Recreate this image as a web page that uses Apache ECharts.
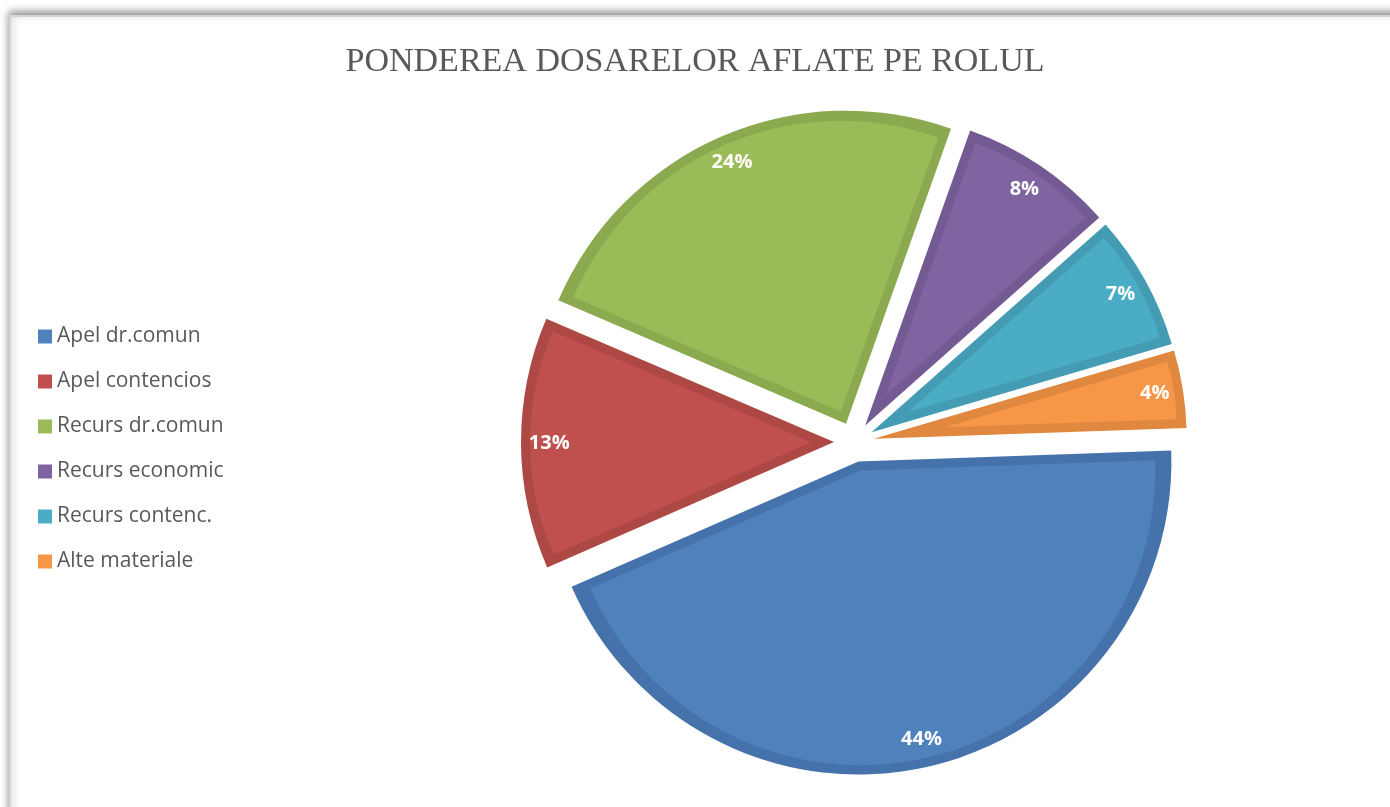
<!DOCTYPE html>
<html>
<head>
<meta charset="utf-8">
<script src="https://cdn.jsdelivr.net/npm/echarts@6/dist/echarts.min.js"></script>
<style>
  html, body { margin: 0; padding: 0; background: #fff; }
  #main { width: 1390px; height: 807px; }
</style>
</head>
<body>
<div id="main"></div>
<script>
// date grafic
var categorii = ['Apel dr.comun', 'Apel contencios', 'Recurs dr.comun', 'Recurs economic', 'Recurs contenc.', 'Alte materiale'];
var procente = [44, 13, 24, 8, 7, 4];
var culori = ['#4F81BD', '#C0504D', '#9BBB59', '#8064A2', '#4BACC6', '#F79646'];
var culoriContur = ['#4672AB', '#AE4845', '#8BA94F', '#735A93', '#439CB3', '#E08740'];

var myChart = echarts.init(document.getElementById('main'));

var centru = [854, 442];
var raza = 313;
var decalaj = 20;     // cat de departe e "explodata" fiecare felie
var grosime = 9;      // conturul e desenat spre interior
var unghiStart = 2;

var transparent = 'rgba(0,0,0,0)';

// felii exterioare (culoarea conturului)
var dateFelii = categorii.map(function (nume, i) {
    var stil = { color: culoriContur[i], borderWidth: 0 };
    return { name: nume, value: procente[i], selected: true, itemStyle: stil, select: { itemStyle: stil } };
});

var serii = [{
    type: 'pie',
    center: centru,
    radius: [0, raza],
    startAngle: unghiStart,
    clockwise: true,
    selectedMode: 'multiple',
    selectedOffset: decalaj,
    label: { show: false },
    labelLine: { show: false },
    emphasis: { disabled: true },
    silent: true,
    data: dateFelii
}];

// pentru fiecare felie, interiorul mai deschis (micsorat spre interior cu "grosime")
var cumul = 0;
procente.forEach(function (p, i) {
    var start = unghiStart - 3.6 * cumul;
    var mijloc = (-unghiStart + 3.6 * (cumul + p / 2)) * Math.PI / 180;
    var alfa = (3.6 * p / 2) * Math.PI / 180;
    var d = grosime / Math.sin(alfa);
    var cx = centru[0] + (decalaj + d) * Math.cos(mijloc);
    var cy = centru[1] + (decalaj + d) * Math.sin(mijloc);
    serii.push({
        type: 'pie',
        center: [cx, cy],
        radius: [0, raza - grosime - d],
        startAngle: start,
        clockwise: true,
        silent: true,
        emphasis: { disabled: true },
        label: { show: false },
        labelLine: { show: false },
        data: [
            { value: p, itemStyle: { color: culori[i] } },
            { value: 100 - p, itemStyle: { color: transparent } }
        ]
    });
    cumul += p;
});

// strat transparent doar pentru etichete (mai aproape de margine)
serii.push({
    type: 'pie',
    center: centru,
    radius: [raza * 0.8, raza],
    startAngle: unghiStart,
    clockwise: true,
    selectedMode: 'multiple',
    selectedOffset: decalaj,
    itemStyle: { color: transparent },
    select: { itemStyle: { color: transparent, borderWidth: 0 } },
    emphasis: { disabled: true },
    silent: true,
    label: {
        show: true,
        position: 'inside',
        formatter: '{c}%',
        color: '#ffffff',
        fontFamily: 'Open Sans',
        fontWeight: 'bold',
        fontSize: 20
    },
    labelLine: { show: false },
    data: categorii.map(function (nume, i) {
        return { name: nume, value: procente[i], selected: true };
    })
});

var option = {
    animation: false,
    title: {
        text: 'PONDEREA DOSARELOR AFLATE PE ROLUL',
        left: 'center',
        top: 40,
        textStyle: {
            fontFamily: 'Liberation Serif',
            fontWeight: 'normal',
            fontSize: 34,
            color: '#595959'
        }
    },
    legend: {
        orient: 'vertical',
        left: 33,
        top: 321,
        itemWidth: 14,
        itemHeight: 14,
        itemGap: 24,
        icon: 'rect',
        data: categorii.map(function (nume, i) {
            return { name: nume, itemStyle: { color: culori[i] } };
        }),
        textStyle: {
            fontFamily: 'Open Sans',
            fontSize: 21,
            color: '#595959'
        },
        selectedMode: false
    },
    graphic: [{
        type: 'rect',
        z: -10,
        silent: true,
        shape: { x: 10, y: 16, width: 1400, height: 820 },
        style: {
            fill: '#ffffff',
            stroke: '#d4d4d4',
            lineWidth: 2,
            shadowBlur: 8,
            shadowOffsetY: -3,
            shadowColor: 'rgba(0,0,0,0.45)'
        }
    }],
    series: serii
};

myChart.setOption(option);
</script>
</body>
</html>
